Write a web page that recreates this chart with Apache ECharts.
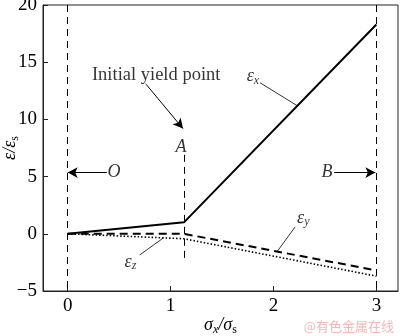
<!DOCTYPE html>
<html>
<head>
<meta charset="utf-8">
<script src="https://cdn.jsdelivr.net/npm/echarts@6/dist/echarts.min.js"></script>
<style>html,body{margin:0;padding:0;background:#fff}#c{width:400px;height:336px}</style>
</head>
<body>
<div id="c"></div>
<script>
// ---- data ----
const xTicks = [0, 1, 2, 3];
const yTicks = [-5, 0, 5, 10, 15, 20];
const epsX = [[0, 0], [1.13, 1.0], [3, 18.3]];
const epsY = [[0, 0], [1.13, 0], [3, -3.2]];
const epsZ = [[0, 0], [1.13, -0.43], [3, -3.7]];
const vLines = [[0, 20, -5], [1.13, 6.9, -2.5], [3, 20, -5]];
const arrowLines = [
  [[0.38, 5.35], [0.0, 5.35]],
  [[2.59, 5.35], [2.99, 5.35]],
  [[0.75, 13.2], [1.12, 9.2]]
];
const leaderLines = [
  [[1.87, 13.2], [2.23, 11.2]],
  [[2.21, 0.6], [2.04, -1.5]],
  [[0.70, -1.85], [0.93, -0.36]]
];
const labels = [
  { pos: [0.86, 13.9], text: 'Initial yield point', kind: 'plain' },
  { pos: [1.10, 7.6], text: '{i|A}', kind: 'rich' },
  { pos: [0.45, 5.35], text: '{i|O}', kind: 'rich' },
  { pos: [2.52, 5.35], text: '{i|B}', kind: 'rich' },
  { pos: [1.80, 13.8], text: '{i|ε}{s|x}', kind: 'rich' },
  { pos: [2.29, 1.4], text: '{i|ε}{s|y}', kind: 'rich' },
  { pos: [0.61, -2.45], text: '{i|ε}{s|z}', kind: 'rich' }
];

const FONT = '"Liberation Serif"';
const richStyle = {
  i: { fontFamily: FONT, fontStyle: 'italic', fontSize: 18, color: '#000' },
  s: { fontFamily: FONT, fontStyle: 'italic', fontSize: 12, color: '#000', padding: [9, 0, 0, 0] },
  r: { fontFamily: FONT, fontSize: 12, color: '#000', padding: [9, 0, 0, 0] }
};

const chart = echarts.init(document.getElementById('c'), null, { renderer: 'canvas' });

const markLineData = [];
vLines.forEach(v => markLineData.push([{ coord: [v[0], v[1]], symbol: 'none' }, { coord: [v[0], v[2]], symbol: 'none' }]));

const arrowData = arrowLines.map(a => [{ coord: a[0], symbol: 'none' }, { coord: a[1], symbol: 'arrow' }]);
const leaderData = leaderLines.map(a => [{ coord: a[0], symbol: 'none' }, { coord: a[1], symbol: 'none' }]);

const option = {
  animation: false,
  grid: { left: 43, right: 2, top: 5, bottom: 45, show: true, borderColor: '#222', borderWidth: 1, containLabel: false, outerBoundsMode: 'none' },
  xAxis: {
    type: 'value', min: -0.24, max: 3.21,
    splitLine: { show: false },
    axisLine: { show: true, onZero: false, lineStyle: { color: '#222', width: 1 } },
    axisTick: { show: true, inside: true, length: 5, customValues: xTicks, lineStyle: { color: '#222' } },
    axisLabel: { customValues: xTicks, fontFamily: FONT, fontSize: 19, color: '#000', margin: 6 },
    name: '{i|σ}{s|x}{i|/σ}{r|s}',
    nameLocation: 'middle', nameGap: 24, nameMoveOverlap: false,
    nameTextStyle: { rich: richStyle }
  },
  yAxis: {
    type: 'value', min: -5, max: 20, interval: 5,
    splitLine: { show: false },
    axisLine: { show: true, onZero: false, lineStyle: { color: '#222', width: 1 } },
    axisTick: { show: true, inside: true, length: 5, lineStyle: { color: '#222' } },
    axisLabel: { fontFamily: FONT, fontSize: 19, color: '#000', margin: 6,
      formatter: v => String(v).replace('-', '\u2212') },
    name: '{i|ε/ε}{r|s}',
    nameLocation: 'middle', nameGap: 22, nameRotate: 90, nameMoveOverlap: false,
    nameTextStyle: { rich: richStyle }
  },
  series: [
    { type: 'line', data: epsX, symbol: 'none', lineStyle: { color: '#000', width: 2 }, z: 5 },
    { type: 'line', data: epsY, symbol: 'none', lineStyle: { color: '#000', width: 2, type: [8, 5] }, z: 5 },
    { type: 'line', data: epsZ, symbol: 'none', lineStyle: { color: '#000', width: 1.6, type: [1.5, 2] }, z: 5 },
    {
      type: 'line', data: [], symbol: 'none',
      markLine: {
        silent: true, symbol: 'none', label: { show: false },
        lineStyle: { color: '#000', width: 1, type: [7, 5] },
        data: markLineData
      }
    },
    {
      type: 'line', data: [], symbol: 'none',
      markLine: {
        silent: true, symbolSize: [8, 10], label: { show: false },
        lineStyle: { color: '#000', width: 1, type: 'solid' },
        data: arrowData
      }
    },
    {
      type: 'line', data: [], symbol: 'none',
      markLine: {
        silent: true, symbol: 'none', label: { show: false },
        lineStyle: { color: '#000', width: 0.8, type: 'solid' },
        data: leaderData
      }
    },
    {
      type: 'scatter', symbolSize: 0, z: 10,
      data: labels.map(l => ({
        value: l.pos,
        label: {
          show: true, position: 'inside', formatter: l.text,
          fontFamily: FONT, fontSize: 18.5, color: '#000',
          rich: l.kind === 'rich' ? richStyle : undefined,
          backgroundColor: l.kind === 'plain' ? '#fff' : 'transparent'
        }
      }))
    }
  ],
  graphic: [
    { type: 'text', right: 6, bottom: 3, style: { text: '@有色金属在线', font: '13px "Noto Sans CJK SC"', fill: '#f2b8b8' } }
  ]
};
chart.setOption(option);
</script>
</body>
</html>
